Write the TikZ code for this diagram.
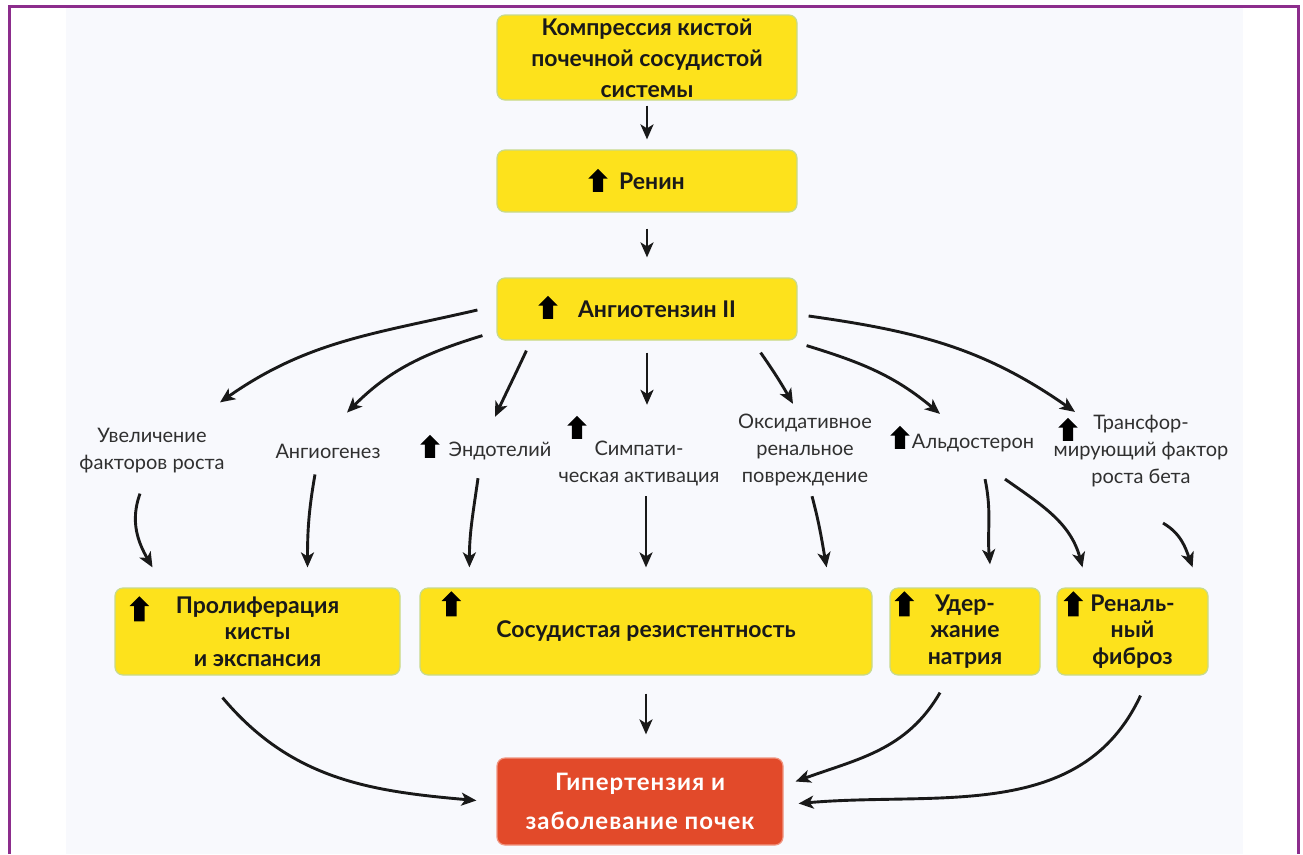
\documentclass[tikz,border=0pt]{standalone}
\usepackage{fontspec}
\setmainfont{Lato}
\usetikzlibrary{arrows.meta,positioning,calc,shapes.arrows}
\definecolor{myyellow}{RGB}{253,226,28}
\definecolor{myedge}{RGB}{200,218,140}
\definecolor{myred}{RGB}{226,74,42}
\definecolor{myrededge}{RGB}{240,150,130}
\definecolor{mypurple}{RGB}{140,45,140}
\definecolor{myink}{RGB}{25,25,25}
\definecolor{mypale}{RGB}{248,249,253}

\begin{document}
\begin{tikzpicture}[x=1pt,y=1pt,
  box/.style={draw=myedge,line width=1.2pt,fill=myyellow,rounded corners=8pt,
    font=\fontsize{23}{31}\selectfont\bfseries,text=myink,align=center,inner sep=0pt},
  rowbox/.style={box,font=\fontsize{23}{26.5}\selectfont\bfseries,minimum height=87pt},
  hotbox/.style={box,draw=myrededge,fill=myred,text=white},
  lbl/.style={font=\fontsize{20}{27}\selectfont,text=myink!90,align=center,inner sep=0pt},
  uparr/.style={single arrow,fill=black,draw=none,rotate=90,inner xsep=0pt,inner ysep=5pt,
    minimum height=23pt,single arrow head extend=4.5pt,single arrow tip angle=90},
  flow/.style={draw=myink,line width=2.9pt,-{Stealth[length=15pt,width=13pt,inset=4pt]}}]
  \fill[white] (0,0) rectangle (1303,-854);
  \useasboundingbox (0,0) rectangle (1303,-854);
  \fill[mypale] (66,-8) rectangle (1243,-854);
  \draw[mypurple,line width=3pt] (9.5,-854) |- (1298.5,-6.5) -- (1298.5,-854);

  % top chain
  \node[box,minimum width=300pt,minimum height=85pt] (comp) at (647,-57.5)
    {\rule{0pt}{19pt}Компрессия кистой\\почечной сосудистой\\системы};
  \node[box,minimum width=300pt,minimum height=62pt] (renin) at (647,-181)
    {\hspace*{10pt}Ренин};
  \node[box,minimum width=300pt,minimum height=62pt] (angio) at (647,-309)
    {\hspace*{20pt}Ангиотензин II};
  \node[uparr] (renin-up) at ([shift={(-49,-2)}]renin.center) {};
  \node[uparr] (angio-up) at ([shift={(-99,-1)}]angio.center) {};

  % middle labels
  \node[lbl] (growth) at (152,-451) {Увеличение\\факторов роста};
  \node[lbl] (angiogen) at (328,-451) {Ангиогенез};
  \node[lbl] (endo) at (500,-451) {Эндотелий};
  \node[lbl] (symp) at (639,-463.5) {Симпати-\\ческая активация};
  \node[lbl] (oxid) at (805,-450) {Оксидативное\\ренальное\\повреждение};
  \node[lbl] (aldo) at (973,-443) {Альдостерон};
  \node[lbl] (tgf) at (1141,-451) {Трансфор-\\мирующий фактор\\роста бета};
  \node[uparr] (endo-up) at (430,-449) {};
  \node[uparr] (symp-up) at (577,-430) {};
  \node[uparr] (aldo-up) at (900,-440) {};
  \node[uparr] (tgf-up) at (1068,-432) {};

  % bottom row
  \node[rowbox,minimum width=285pt] (prolif) at (257.5,-631.5)
    {Пролиферация\\кисты\\и экспансия};
  \node[rowbox,minimum width=452pt] (vasc) at (646,-631.5) {Сосудистая резистентность};
  \node[rowbox,minimum width=150pt] (sodium) at (965,-631.5) {Удер-\\жание\\натрия};
  \node[rowbox,minimum width=151pt] (fibr) at (1132.5,-631.5) {Реналь-\\ный\\фиброз};
  \foreach \n/\dx/\dy in {prolif/25/24,vasc/32/19,sodium/15/19,fibr/17/19}
    \node[uparr,minimum height=25pt] (\n-up) at ([shift={(\dx,-\dy)}]\n.north west) {};
  \node[hotbox,minimum width=286pt,minimum height=87pt,
        font=\fontsize{24}{39}\selectfont\bfseries\addfontfeature{LetterSpace=4}]
    (final) at (640,-801.5) {Гипертензия и\\заболевание почек};

  % connectors
  \draw[flow] ([yshift=-5]comp.south) -- ([yshift=10]renin.north);
  \draw[flow] ([yshift=-16]renin.south) -- ([yshift=20]angio.north);
  \draw[flow] ([shift={(-19,-1)}]angio.west) to[out=193,in=35] ([shift={(68,26)}]growth.north);
  \draw[flow] ([shift={(-14,5)}]angio.south west) to[out=197,in=45] ([shift={(19,31)}]angiogen.north);
  \draw[flow] ([shift={(30,-10)}]angio.south west) to[out=245,in=65] ([shift={(-5,25)}]endo.north);
  \draw[flow] ([yshift=-12]angio.south) -- ($(angio.south |- symp.north)+(0,36)$);
  \draw[flow] ([shift={(-37,-12)}]angio.south east) to[out=-55,in=120] ([shift={(-12,10)}]oxid.north);
  \draw[flow] ([shift={(9,-5)}]angio.south east) to[out=-17,in=140] ([shift={(-33,20)}]aldo.north);
  \draw[flow] ([shift={(11,-7)}]angio.east) to[out=-8,in=145] ([shift={(-66,3)}]tgf.north);

  \draw[flow] ([shift={(-12,-20)}]growth.south) to[out=250,in=120] ([shift={(-105,20)}]prolif.north);
  \draw[flow] ([shift={(-13,-16)}]angiogen.south) to[out=260,in=90] ([shift={(50,20)}]prolif.north);
  \draw[flow] ([shift={(-22,-18)}]endo.south) to[out=262,in=90] ([shift={(50,20)}]vasc.north west);
  \draw[flow] ($(vasc.north |- symp.south)+(0,-10)$) -- ([yshift=20]vasc.north);
  \draw[flow] ([shift={(7,-10)}]oxid.south) to[out=-75,in=100] ([shift={(-46,20)}]vasc.north east);
  \draw[flow] ([shift={(12,-27)}]aldo.south) to[out=-78,in=95] ([shift={(25,23)}]sodium.north);
  \draw[flow] ([shift={(32,-27)}]aldo.south) to[out=-35,in=105] ([shift={(-50,20)}]fibr.north);
  \draw[flow] ([shift={(22,-36)}]tgf.south) to[out=-30,in=110] ([shift={(-16,20)}]fibr.north east);

  \draw[flow] ([yshift=-18]vasc.south) -- ($(vasc.south |- final.north)+(0,23)$);
  \draw[flow] ([shift={(-35,-22)}]prolif.south) to[out=-50,in=175] ([shift={(-20,1)}]final.west);
  \draw[flow] ([shift={(-25,-17)}]sodium.south) to[out=240,in=20] ([shift={(12,20)}]final.east);
  \draw[flow] ([shift={(8,-20)}]fibr.south) to[out=245,in=5] ([shift={(15,-2)}]final.east);
\end{tikzpicture}
\end{document}
